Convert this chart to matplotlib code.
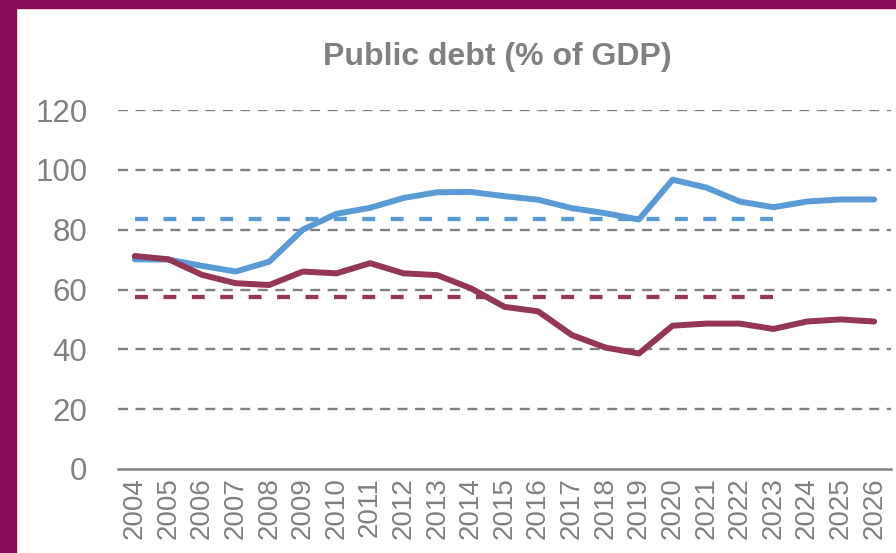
import matplotlib.pyplot as plt
from matplotlib.patches import Rectangle

years = [str(y) for y in range(2004, 2027)]
debt_a = [70.1, 70.0, 67.9, 66.0, 69.3, 80.0, 85.3, 87.3, 90.6, 92.5, 92.6, 91.2,
          90.0, 87.2, 85.5, 83.4, 96.7, 94.1, 89.4, 87.5, 89.4, 90.1, 90.1]
debt_b = [71.2, 70.1, 64.9, 62.1, 61.5, 66.0, 65.4, 68.8, 65.4, 64.8, 60.4, 54.2,
          52.7, 44.8, 40.6, 38.6, 47.9, 48.6, 48.6, 46.8, 49.3, 50.0, 49.3]
avg_a = 83.6
avg_b = 57.4
avg_end = '2023'

plt.rcParams['font.family'] = ['Liberation Sans', 'DejaVu Sans']

blue = '#5b9bd5'
red = '#943656'
grey = '#808080'
frame = '#8a0c56'

fig = plt.figure(figsize=(8.96, 5.53), dpi=100)
fig.patches.append(Rectangle((0, 0), 16 / 896, 1, transform=fig.transFigure,
                             color=frame, zorder=0))
fig.patches.append(Rectangle((0, 1 - 8 / 553), 1, 8 / 553, transform=fig.transFigure,
                             color=frame, zorder=0))

ax = fig.add_axes([118 / 896, 1 - 469 / 553, (891 - 118) / 896, (469 - 110) / 553])
x = list(range(len(years)))
ax.set_xlim(-0.5, len(years) - 0.5)
ax.set_ylim(0, 120)

for v in range(20, 121, 20):
    ax.axhline(v, color=grey, lw=1.7, dashes=(4.2, 3.2), zorder=1)

end_i = years.index(avg_end)
ax.plot([0, end_i], [avg_a, avg_a], color=blue, lw=3.1, dashes=(3.0, 3.6), zorder=2)
ax.plot([0, end_i], [avg_b, avg_b], color=red, lw=3.1, dashes=(3.0, 3.6), zorder=2)
ax.plot(x, debt_a, color=blue, lw=4.3, solid_capstyle='round', zorder=3)
ax.plot(x, debt_b, color=red, lw=4.3, solid_capstyle='round', zorder=4)

for s in ['left', 'right', 'top']:
    ax.spines[s].set_visible(False)
ax.spines['bottom'].set_color(grey)
ax.spines['bottom'].set_linewidth(1.8)

ax.set_yticks(range(0, 121, 20))
ax.set_xticks(x)
ax.set_xticklabels(years, rotation=90)
ax.tick_params(axis='y', length=0, pad=22, labelsize=22.5, labelcolor=grey)
ax.tick_params(axis='x', length=0, pad=6, labelsize=20, labelcolor=grey)

fig.text(497 / 896, 1 - 65 / 553, 'Public debt (% of GDP)', ha='center', va='baseline',
         fontsize=23, fontweight='bold', color=grey)

fig.savefig('out.png', dpi=100)
